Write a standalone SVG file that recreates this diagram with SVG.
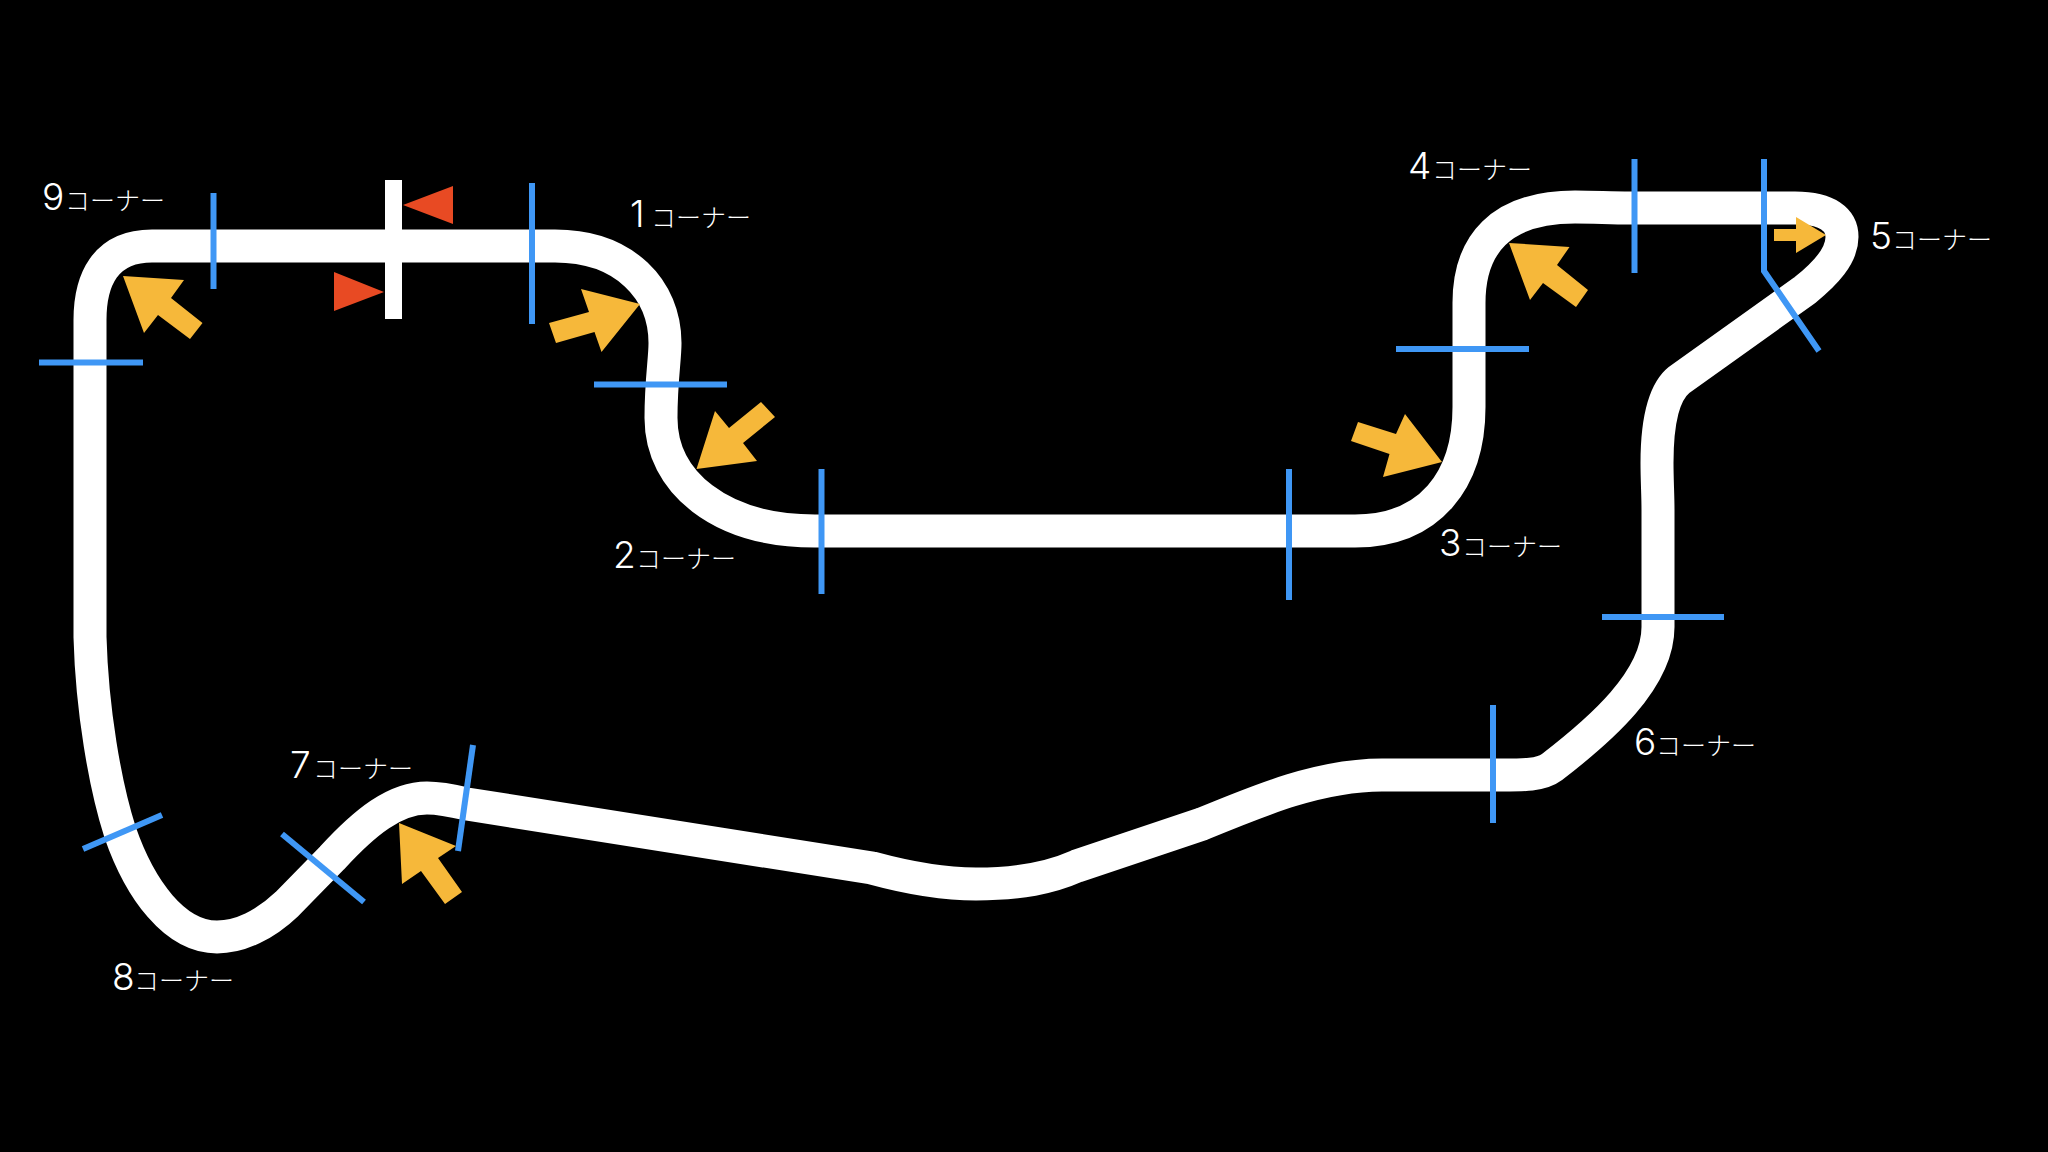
<svg xmlns="http://www.w3.org/2000/svg" width="2048" height="1152" viewBox="0 0 2048 1152">
<style>
.track{fill:none;stroke:#fff;stroke-width:33;stroke-linejoin:round}
.cut{fill:none;stroke:#3f97f5;stroke-width:6}
.arrow{fill:#f6b83a}
.flag{fill:#e84a23}
text{fill:#fff;font-family:"Noto Sans CJK JP","Noto Sans",sans-serif;font-weight:300}
.n{font-size:37px;font-family:"Inter","Noto Sans CJK JP",sans-serif;font-weight:300}
.k{font-size:25px}
</style>
<rect width="2048" height="1152" fill="#000"/>
<path id="track" class="track" d="M152 246H555C625 246 665 290 665 343C665 360 661 380 661 418C661 482 720 531 815 531H1355C1430 531 1469 480 1469 407V303C1469 245 1500 207 1575 207C1595 207 1610 208 1630 208H1795C1828 208 1842 220 1842 237C1842 256 1825 274 1805 290L1679 380C1664 392 1657 420 1657 463C1657 480 1658 495 1658 510V627C1658 680 1600 730 1552 767C1540 776 1520 775 1493 775H1382C1320 775 1260 800 1202 824L1077 866C1050 878 1020 884 976 884C940 884 905 877 872 868L467 804C450 800 440 798 427 798C395 798 365 822 332 858L287 904C265 925 240 937 217 937C175 937 140 890 120 832C105 785 92 710 90 637V320C90 280 105 246 152 246Z"/>
<rect id="start-line" x="385" y="180" width="17" height="139" fill="#fff"/>
<g id="flags">
<polygon class="flag" points="403,205 453,186 453,224"/>
<polygon class="flag" points="384,292 334,272 334,311"/>
</g>
<g id="sectors">
<path class="cut" d="M213.500 193V289"/>
<path class="cut" d="M532 183V324"/>
<path class="cut" d="M39 362.500H143"/>
<path class="cut" d="M594 384.500H727"/>
<path class="cut" d="M821.500 469V594"/>
<path class="cut" d="M1289 469V600"/>
<path class="cut" d="M1396 349H1529"/>
<path class="cut" d="M1634.500 159V273"/>
<path class="cut" d="M1764 159V271L1819 351"/>
<path class="cut" d="M1602 617H1724"/>
<path class="cut" d="M1493 705V823"/>
<path class="cut" d="M473 745L458 851"/>
<path class="cut" d="M282 834L364 902"/>
<path class="cut" d="M162 815L83 849"/>
</g>
<g id="arrows">
<polygon class="arrow" points="123,276 184,280 171,298 202.500,323 190,339 158,315 144,333"/>
<polygon class="arrow" points="640,304 581,289 589,312 549,323 556,343 594.500,332 601.500,352"/>
<polygon class="arrow" points="696.500,469 715,411 729,428 761,402 775,417 743,443 757,461"/>
<polygon class="arrow" points="1442,462 1405,414 1396,434 1358,422 1351,441 1389.500,454 1383,477"/>
<polygon class="arrow" points="1509,243 1569.500,247 1557,265 1588,290 1576,307 1543,283 1530,300"/>
<polygon class="arrow" points="1826,235 1796,217 1796,229 1774,229 1774,241 1796,241 1796,253"/>
<polygon class="arrow" points="399,823 456,846 438,858 462,892 445,904 421,871 402,884"/>
</g>
<g id="labels">
<text id="c9" y="210"><tspan class="n" x="42">9</tspan><tspan class="k" x="65">コーナー</tspan></text>
<text id="c1" y="227"><tspan class="n" x="630">1</tspan><tspan class="k" x="651">コーナー</tspan></text>
<text id="c2" y="568"><tspan class="n" x="613">2</tspan><tspan class="k" x="636">コーナー</tspan></text>
<text id="c3" y="556"><tspan class="n" x="1439">3</tspan><tspan class="k" x="1462">コーナー</tspan></text>
<text id="c4" y="179"><tspan class="n" x="1408">4</tspan><tspan class="k" x="1432">コーナー</tspan></text>
<text id="c5" y="249"><tspan class="n" x="1870">5</tspan><tspan class="k" x="1892">コーナー</tspan></text>
<text id="c6" y="755"><tspan class="n" x="1634">6</tspan><tspan class="k" x="1656">コーナー</tspan></text>
<text id="c7" y="778"><tspan class="n" x="290">7</tspan><tspan class="k" x="313">コーナー</tspan></text>
<text id="c8" y="990"><tspan class="n" x="112">8</tspan><tspan class="k" x="134">コーナー</tspan></text>
</g>
</svg>
